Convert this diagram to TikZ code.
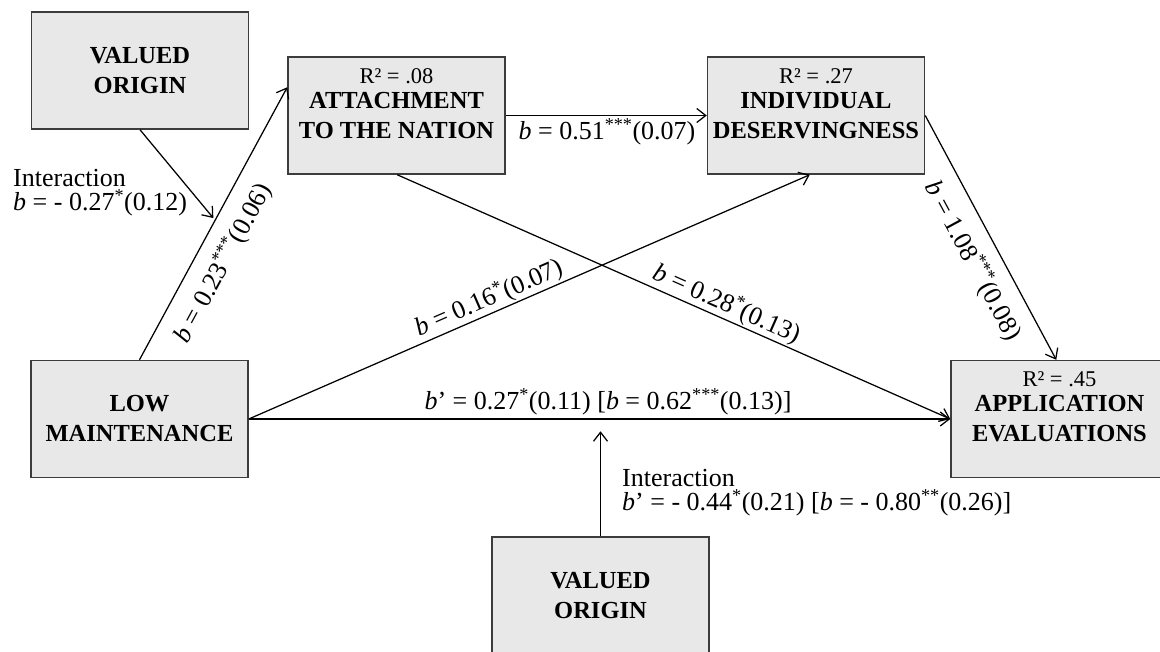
\documentclass[tikz,border=0pt]{standalone}
\usepackage{fontspec}
\setmainfont{Liberation Serif}
\usetikzlibrary{arrows.meta,calc}

\definecolor{boxfill}{HTML}{E8E8E8}
\definecolor{boxedge}{HTML}{3C3C3C}

% type sizes (1pt = 1 image pixel)
\newcommand\lblsize{\fontsize{26}{23.5}\selectfont}
\newcommand\boxsize{\fontsize{24.5}{30}\selectfont\bfseries}
\newcommand\rsqsize{\fontsize{22.5}{27}\selectfont}
\newcommand\bb{\textit{b}}
\newcommand\sig[1]{\textsuperscript{#1}}

\begin{document}
\begin{tikzpicture}[x=1pt,y=-1pt,
  varbox/.style={draw=boxedge, fill=boxfill, line width=1.5pt,
    minimum width=217pt, minimum height=117pt, inner sep=0pt,
    align=center, font=\boxsize},
  path/.style={line width=1.25pt, -{Straight Barb[length=9pt,width=14pt]}},
  coef/.style={font=\lblsize, inner sep=0pt},
  rsq/.style={font=\rsqsize, anchor=base, inner sep=0pt}]

\useasboundingbox (0,0) rectangle (1160,651);
\clip (0,0) rectangle (1160,651);

% variables
\node[varbox] (vo1) at (140,70.5)    {VALUED\\ORIGIN};
\node[varbox] (atn) at (396.5,115.5) {ATTACHMENT\\TO THE NATION};
\node[varbox] (ind) at (816,115.5)   {INDIVIDUAL\\DESERVINGNESS};
\node[varbox] (low) at (139.5,419)   {LOW\\MAINTENANCE};
\node[varbox] (app) at (1059.5,419)  {APPLICATION\\EVALUATIONS};
\node[varbox] (vo2) at (600.5,595.5) {VALUED\\ORIGIN};

% explained variance
\node[rsq] (atnR) at ($(atn.north)+(0,27)$) {R² = .08};
\node[rsq] (indR) at ($(ind.north)+(0,27)$) {R² = .27};
\node[rsq] (appR) at ($(app.north)+(0,27)$) {R² = .45};

% connector end points
\coordinate (atnIn)  at ($(atn.north west)+(0,31)$);
\coordinate (m1)     at ($(low.north)!0.52!(atnIn)+(-3,0)$);
\coordinate (appIn)  at (low.east -| app.west);
\coordinate (atnOut) at ($(atn.south west)+(110,0)$);
\coordinate (indIn)  at ($(ind.south west)+(103,0)$);
\coordinate (appTop) at ($(app.north west)+(106,0)$);
\coordinate (m2)     at ($(vo2.north)+(0,-105)$);

% paths
\draw[path] (low.north) -- (atnIn);
\draw[path] (vo1.south) -- (m1);
\draw[path] (atn.east) -- (ind.west);
\draw[path] (atnOut) -- (appIn);
\draw[path] (low.east) -- (indIn);
\draw[path] (low.east) -- (appIn);
\draw[path] (ind.east) -- (appTop);
\draw[path] (vo2.north) -- (m2);

% coefficients
\node[coef, rotate=61.5]  (l023) at (223,263) {\bb{} = 0.23\sig{***}(0.06)};
\node[coef]               (l051) at (607,132) {\bb{} = 0.51\sig{***}(0.07)};
\node[coef, rotate=23.5]  (l016) at (489,298) {\bb{} = 0.16\sig{*}(0.07)};
\node[coef, rotate=-23.9] (l028) at (727,304) {\bb{} = 0.28\sig{*}(0.13)};
\node[coef, rotate=-61.6] (l108) at (973,261) {\bb{} = 1.08\sig{***}(0.08)};
\node[coef]               (ldir) at (608,402) {\bb’ = 0.27\sig{*}(0.11) [\bb{} = 0.62\sig{***}(0.13)]};
\node[coef, align=left, anchor=north west] (int1) at (13,169.5)
  {Interaction\\\bb{} = - 0.27\sig{*}(0.12)};
\node[coef, align=left, anchor=north west] (int2) at (622,469.5)
  {Interaction\\\bb’ = - 0.44\sig{*}(0.21) [\bb{} = - 0.80\sig{**}(0.26)]};

\end{tikzpicture}
\end{document}
